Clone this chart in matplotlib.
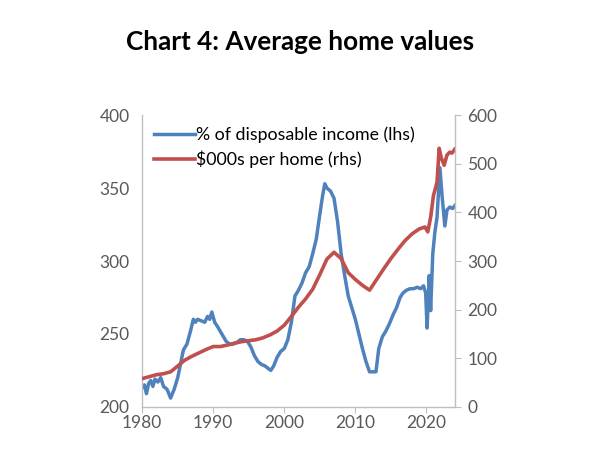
#Chart 4: average home values, two axes
import matplotlib
matplotlib.use("Agg")
import matplotlib.pyplot as plt

plt.rcParams['font.family'] = ['Lato', 'DejaVu Sans']

# % of disposable income (left axis)
anos_renda = [1980.0, 1980.3, 1980.6, 1980.9, 1981.2, 1981.5, 1981.8, 1982.2, 1982.6, 1983.0,
              1983.5, 1984.0, 1984.5, 1985.0, 1985.5, 1985.8, 1986.3, 1986.8, 1987.2, 1987.5,
              1987.8, 1988.3, 1988.8, 1989.2, 1989.5, 1989.8, 1990.2, 1990.6, 1991.2, 1991.8,
              1992.3, 1992.8, 1993.3, 1993.8, 1994.3, 1994.8, 1995.3, 1995.8, 1996.3, 1996.8,
              1997.3, 1997.8, 1998.1, 1998.5, 1999.0, 1999.5, 2000.0, 2000.5, 2001.0, 2001.5,
              2002.0, 2002.5, 2003.0, 2003.5, 2004.0, 2004.5, 2005.0, 2005.4, 2005.7, 2006.0,
              2006.5, 2007.0, 2007.5, 2008.0, 2008.5, 2009.0, 2009.5, 2010.0, 2010.5, 2011.0,
              2011.5, 2012.0, 2012.5, 2012.9, 2013.3, 2013.8, 2014.3, 2014.8, 2015.3, 2015.8,
              2016.3, 2016.7, 2017.2, 2017.7, 2018.2, 2018.7, 2019.2, 2019.6, 2019.9, 2020.1,
              2020.4, 2020.6, 2020.9, 2021.2, 2021.5, 2021.9, 2022.2, 2022.6, 2022.9, 2023.3,
              2023.7, 2024.0]
renda = [213, 215, 209, 216, 218, 214, 219, 217, 220, 214,
         212, 206, 212, 220, 232, 239, 243, 252, 260, 258,
         260, 259, 258, 262, 260, 265, 258, 255, 250, 245,
         243, 243, 244, 246, 246, 245, 241, 235, 231, 229,
         228, 226, 225, 228, 234, 238, 240, 246, 258, 276,
         280, 285, 292, 296, 305, 315, 332, 345, 353, 350,
         348, 343, 327, 305, 290, 276, 268, 260, 250, 240,
         231, 224, 224, 224, 240, 248, 252, 257, 263, 268,
         275, 278, 280, 281, 281, 282, 281, 283, 278, 254,
         290, 266, 305, 320, 330, 364, 345, 324, 335, 337,
         336, 338]

# $000s per home (right axis)
anos_casa = [1980, 1981, 1982, 1983, 1984, 1985, 1986, 1987, 1988, 1989,
             1990, 1991, 1992, 1993, 1994, 1995, 1996, 1997, 1998, 1999,
             2000, 2001, 2002, 2003, 2004, 2005, 2006, 2007, 2008, 2009,
             2010, 2011, 2012, 2013, 2014, 2015, 2016, 2017, 2018, 2019,
             2019.8, 2020.2, 2020.6, 2021.0, 2021.5, 2021.8, 2022.1, 2022.5, 2022.9, 2023.3,
             2023.6, 2024.0]
casa = [58, 62, 66, 68, 72, 84, 96, 104, 111, 118,
        124, 124, 127, 131, 134, 136, 138, 142, 148, 156,
        168, 186, 205, 222, 242, 272, 304, 318, 305, 276,
        262, 250, 240, 262, 284, 305, 324, 342, 356, 366,
        370, 360, 390, 435, 462, 532, 512, 497, 518, 524,
        522, 530]

anos_ticks = [1980, 1990, 2000, 2010, 2020]

AZUL = '#4f81bd'
VERMELHO = '#c0504d'
CINZA = '#bfbfbf'
TEXTO = '#595959'

fig = plt.figure(figsize=(6, 4.5), dpi=100)
ax = fig.add_axes([0.237, 0.096, 0.521, 0.648])
ax2 = ax.twinx()

l1, = ax.plot(anos_renda, renda, color=AZUL, lw=2.5, solid_joinstyle='round',
              label='% of disposable income (lhs)')
l2, = ax2.plot(anos_casa, casa, color=VERMELHO, lw=2.6, solid_joinstyle='round',
               label='$000s per home (rhs)')

ax.set_xlim(1980, 2024)
ax.set_ylim(200, 400)
ax2.set_ylim(0, 600)
ax.set_xticks(anos_ticks)
ax.set_yticks([200, 250, 300, 350, 400])
ax2.set_yticks([0, 100, 200, 300, 400, 500, 600])

for a in (ax, ax2):
    a.spines['top'].set_visible(False)
    for s in ('left', 'right', 'bottom'):
        a.spines[s].set_color(CINZA)
        a.spines[s].set_linewidth(1)
ax.spines['right'].set_visible(False)
ax2.spines['left'].set_visible(False)
ax2.spines['bottom'].set_visible(False)

ax.tick_params(axis='y', length=0, pad=9, labelsize=12.5, labelcolor=TEXTO)
ax.tick_params(axis='x', length=4, color=CINZA, pad=2, labelsize=12.5, labelcolor=TEXTO)
ax2.tick_params(axis='y', length=4, color=CINZA, pad=5, labelsize=12.5, labelcolor=TEXTO)

ax2.legend(handles=[l1, l2], loc='upper left', bbox_to_anchor=(0.0, 1.0),
           frameon=False, fontsize=12.8, handlelength=2.3, handletextpad=0.08,
           labelspacing=0.4, borderaxespad=0.3, borderpad=0.35)

fig.text(0.5, 0.907, 'Chart 4: Average home values', ha='center', va='center',
         fontsize=18.8, fontweight='bold', color='black')

fig.savefig('out.png', dpi=100)
